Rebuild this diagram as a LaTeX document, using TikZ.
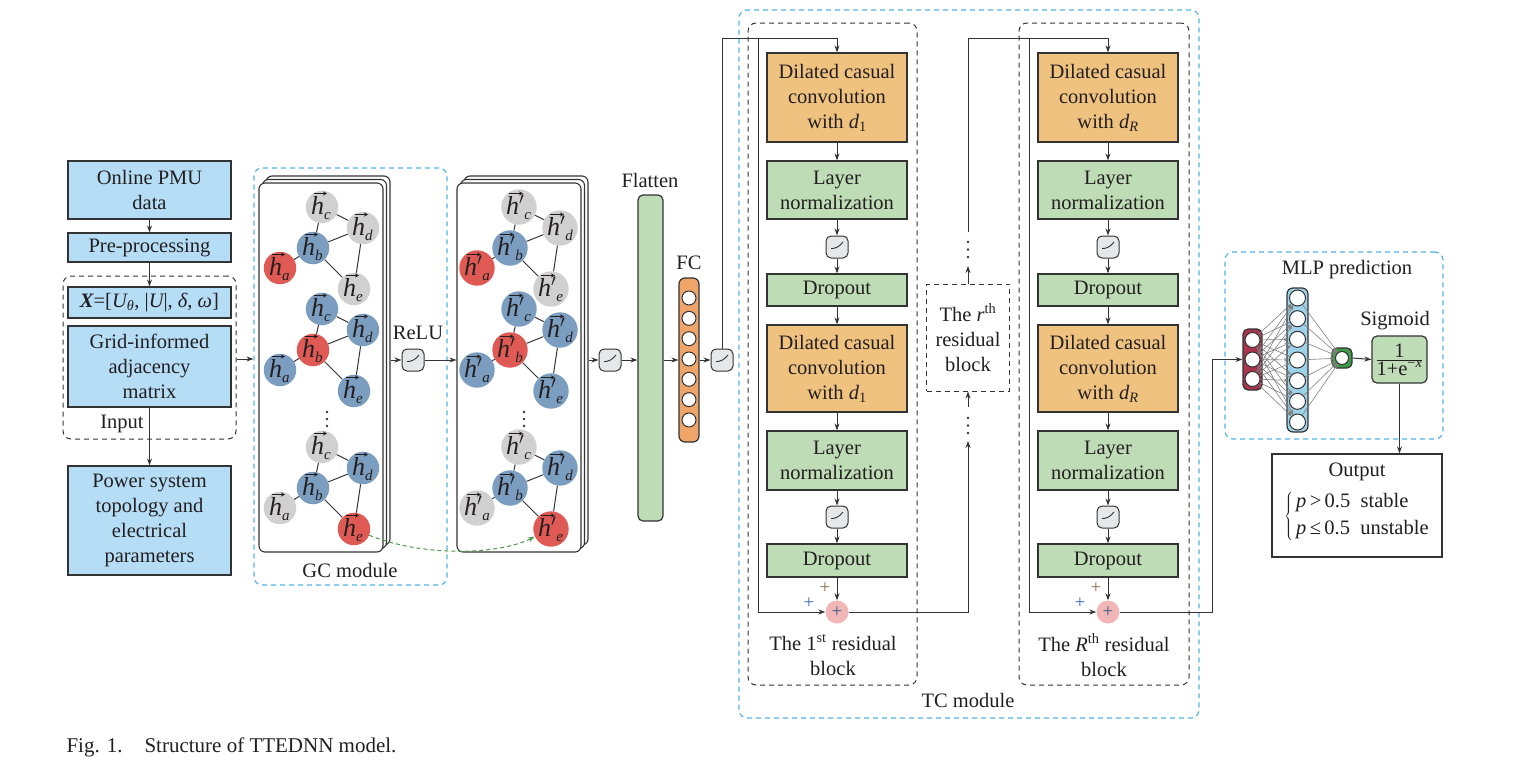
\documentclass[tikz,border=0pt]{standalone}
\usepackage{fontspec}
\setmainfont{Liberation Serif}
\usetikzlibrary{arrows.meta,calc}
\definecolor{bluebox}{HTML}{B5DDF6}
\definecolor{orangebox}{HTML}{F0C27F}
\definecolor{greenbox}{HTML}{BEDCB6}
\definecolor{fcorange}{HTML}{EFA46A}
\definecolor{icongray}{HTML}{E6E7E9}
\definecolor{nred}{HTML}{E05A55}
\definecolor{nblue}{HTML}{7B9DBF}
\definecolor{ngray}{HTML}{D0D0D0}
\definecolor{dblue}{HTML}{55B4E6}
\definecolor{linec}{HTML}{333333}
\definecolor{txt}{HTML}{231F20}
\definecolor{pluspink}{HTML}{F2B6B6}
\definecolor{mlpred}{HTML}{A8344E}
\definecolor{mlpblue}{HTML}{9ED2E8}
\definecolor{mlpgreen}{HTML}{3E9B47}
\definecolor{curvegreen}{HTML}{4C9A4C}
\definecolor{plusbrown}{HTML}{8C6D4F}
\definecolor{plusblue}{HTML}{3D6DB5}
\definecolor{plusin}{HTML}{3A5A90}
\newcommand\hvn[1]{\raisebox{0pt}[19pt][5pt]{\makebox[22pt][l]{{\itshape h}\raisebox{-5pt}{\fontsize{15}{15}\selectfont\itshape #1}}}}
\newcommand\hvp[1]{\raisebox{0pt}[19pt][5pt]{\makebox[26pt][l]{{\itshape h}$'$\raisebox{-5pt}{\fontsize{15}{15}\selectfont\itshape #1}}}}
\tikzset{
 box/.style={draw=linec, line width=1.2pt, inner sep=0pt, align=center},
 bluebx/.style={box, fill=bluebox, minimum width=163pt},
 tcorange/.style={box, fill=orangebox, minimum width=140pt, minimum height=89pt},
 tcgreen/.style={box, fill=greenbox, minimum width=140pt},
 reluicon/.style={draw=linec, line width=1pt, fill=icongray, rounded corners=5pt, minimum size=22pt, inner sep=0pt,
   path picture={\draw[line width=0.9pt] ([shift={(-6pt,-1.5pt)}]path picture bounding box.center) -- ([shift={(0pt,-1.5pt)}]path picture bounding box.center) -- ([shift={(6pt,5pt)}]path picture bounding box.center);}},
 arr/.style={draw=linec, line width=1pt, -{Stealth[length=7pt,width=5pt]}},
 gedge/.style={draw=linec, line width=1pt},
 blkdash/.style={draw=linec, line width=1pt, dash pattern=on 5pt off 4pt, rounded corners=8pt, inner sep=0pt},
 bludash/.style={draw=dblue, line width=1.2pt, dash pattern=on 5pt off 4pt, rounded corners=8pt, inner sep=0pt},
 gnode/.style={circle, minimum size=31pt, inner sep=0pt, font=\fontsize{26}{26}\selectfont},
 gn-n/.style={gnode, path picture={\draw[line width=1pt, draw=txt, -{Stealth[length=4pt,width=4pt]}] ([shift={(-8.5pt,13.5pt)}]path picture bounding box.center) -- ([shift={(5pt,13.5pt)}]path picture bounding box.center);}},
 gn-p/.style={gnode, path picture={\draw[line width=1pt, draw=txt, -{Stealth[length=4pt,width=4pt]}] ([shift={(-10.5pt,13.5pt)}]path picture bounding box.center) -- ([shift={(4pt,13.5pt)}]path picture bounding box.center);}},
 card/.style={draw=linec, line width=1.1pt, fill=white, rounded corners=6pt, minimum width=124pt, minimum height=369pt, inner sep=0pt},
 mc/.style={circle, draw=linec, fill=white, line width=1pt, inner sep=0pt, minimum size=15pt},
 plusc/.style={circle, fill=pluspink, minimum size=23pt, inner sep=0pt, text=plusin, font=\fontsize{19}{19}\selectfont},
 mlparr/.style={draw=gray, line width=0.6pt, -{Stealth[length=5pt,width=3.5pt]}},
}
\newcommand\ggroup[9]{%
 \begin{scope}[shift={(#2,#3)}]
 \node[gn-#9, fill=#4] (#1a) at (280,268) {\csname hv#9\endcsname{a}};
 \node[gn-#9, fill=#5] (#1b) at (313,248) {\csname hv#9\endcsname{b}};
 \node[gn-#9, fill=#6] (#1c) at (322,207) {\csname hv#9\endcsname{c}};
 \node[gn-#9, fill=#7] (#1d) at (363,228) {\csname hv#9\endcsname{d}};
 \node[gn-#9, fill=#8] (#1e) at (354,289) {\csname hv#9\endcsname{e}};
 \draw[gedge] (#1c)--(#1b) (#1c)--(#1d) (#1b)--(#1d) (#1a)--(#1b) (#1b)--(#1e) (#1d)--(#1e);
 \end{scope}}
\newcommand\tcblock[3]{%
 \node[tcorange] (#1dilA) at (#2,97.5) {Dilated casual\\convolution\\with {\itshape d}\textsubscript{#3}};
 \node[tcgreen, minimum height=58pt] (#1lnA) at (#2,190) {Layer\\normalization};
 \node[reluicon] (#1rlA) at (#2,247) {};
 \node[tcgreen, minimum height=32pt] (#1drA) at (#2,290) {Dropout};
 \node[tcorange, minimum height=87pt] (#1dilB) at (#2,368.5) {Dilated casual\\convolution\\with {\itshape d}\textsubscript{#3}};
 \node[tcgreen, minimum height=59pt] (#1lnB) at (#2,460.5) {Layer\\normalization};
 \node[reluicon] (#1rlB) at (#2,517) {};
 \node[tcgreen, minimum height=33pt] (#1drB) at (#2,560.5) {Dropout};
 \node[plusc] (#1plus) at (#2,612) {+};
 \draw[arr] (#1dilA) -- (#1lnA);
 \draw[arr] (#1lnA) -- (#1rlA);
 \draw[arr] (#1rlA) -- (#1drA);
 \draw[arr] (#1drA) -- (#1dilB);
 \draw[arr] (#1dilB) -- (#1lnB);
 \draw[arr] (#1lnB) -- (#1rlB);
 \draw[arr] (#1rlB) -- (#1drB);
 \draw[arr] (#1drB) -- (#1plus);
 \node[text=plusbrown, font=\fontsize{19}{19}\selectfont] (#1pa) at ({#2-12},588) {+};
 \node[text=plusblue, font=\fontsize{19}{19}\selectfont] (#1pb) at ({#2-28},603) {+};
}
\begin{document}
\begin{tikzpicture}[x=1pt,y=-1pt, font=\fontsize{20.5}{25}\selectfont, text=txt, every node/.append style={align=center}]
\useasboundingbox (0,0) rectangle (1524,772);

% ---------- left column ----------
\node[blkdash, minimum width=173pt, minimum height=163pt] (inbox) at (149.5,357.5) {};
\node[bluebx, minimum height=58pt] (pmu) at (149.5,190) {Online PMU\\data};
\node[bluebx, minimum height=29pt] (pre) at (149.5,247.5) {Pre-processing};
\node[bluebx, minimum height=31pt] (xin) at (149.5,302.5) {{\bfseries\itshape X}=[{\itshape U}\textsubscript{\itshape θ}, |{\itshape U}|, {\itshape δ}, {\itshape ω}]};
\node[bluebx, minimum height=81pt] (grid) at (149.5,366.5) {Grid-informed\\adjacency\\matrix};
\node[bluebx, minimum height=109pt] (pow) at (149.5,520.5) {Power system\\topology and\\electrical\\parameters};
\node (inlab) at (122,424) {Input};
\draw[arr] (pmu) -- (pre);
\draw[arr] (pre) -- (xin);
\draw[arr] (grid) -- (pow);

% ---------- GC module ----------
\node[bludash, minimum width=193pt, minimum height=417pt] (gcm) at (350.5,376.5) {};
\node (gclab) at (350,570) {GC module};
\draw[arr] (inbox.east |- 0,359) -- (gcm.west |- 0,359);

\node[card] (c1c) at (328,360.5) {};
\node[card] (c1b) at (324.5,364) {};
\node[card] (c1a) at (321,367.5) {};
\node[card] (c2c) at (526,360.5) {};
\node[card] (c2b) at (522.5,364) {};
\node[card] (c2a) at (519,367.5) {};

\ggroup{sa}{0}{0}{nred}{nblue}{ngray}{ngray}{ngray}{n}
\ggroup{sb}{0}{102}{nblue}{nred}{nblue}{nblue}{nblue}{n}
\ggroup{sc}{0}{240}{ngray}{nblue}{ngray}{nblue}{nred}{n}
\ggroup{ta}{197}{0}{nred}{nblue}{ngray}{ngray}{ngray}{p}
\ggroup{tb}{197}{102}{nblue}{nred}{nblue}{nblue}{nblue}{p}
\ggroup{tc}{197}{240}{ngray}{nblue}{ngray}{nblue}{nred}{p}
\foreach \yy in {412,419,426} {\fill[linec] (327,\yy) circle (1.3pt); \fill[linec] (524,\yy) circle (1.3pt);}

\draw[curvegreen, line width=1pt, dash pattern=on 4pt off 3pt, -{Stealth[length=7pt,width=5pt]}] (sce) .. controls (420,556) and (495,556) .. (tce);

\node[reluicon] (r1) at (413,360) {};
\node (relulab) at (418,333) {ReLU};
\draw[arr] (c1c.east |- r1) -- (r1.west);
\draw[arr] (r1.east) -- (c2a.west |- r1.east);

\node[reluicon] (r2) at (610,360) {};
\draw[arr] (c2c.east |- r2) -- (r2.west);

% ---------- Flatten / FC ----------
\node[box, fill=greenbox, rounded corners=5pt, minimum width=25pt, minimum height=326pt] (flat) at (650.5,358) {};
\node (flatlab) at (650,180) {Flatten};
\draw[arr] (r2.east) -- (flat.west |- r2.east);
\node[box, fill=fcorange, rounded corners=6pt, minimum width=20pt, minimum height=164pt] (fcbar) at (689,360) {};
\foreach \i in {1,...,7} \node[mc, minimum size=14pt] (fc\i) at (689,{298+20.33*(\i-1)}) {};
\node (fclab) at (689,263) {FC};
\draw[arr] (flat.east |- fcbar.west) -- (fcbar.west);
\node[reluicon] (r3) at (722,360) {};
\draw[arr] (fcbar.east) -- (r3.west);

% ---------- TC module ----------
\node[bludash, minimum width=460pt, minimum height=708pt] (tcm) at (969,364) {};
\node (tclab) at (968,700) {TC module};
\node[blkdash, minimum width=169pt, minimum height=662pt] (blkA) at (832.5,354) {};
\node[blkdash, minimum width=170pt, minimum height=662pt] (blkB) at (1104,354) {};
\tcblock{A}{837}{1}
\tcblock{B}{1108}{\itshape R}
\node (labA) at (833,655) {The 1\textsuperscript{st} residual\\block};
\node (labB) at (1104,655) {The {\itshape R}\textsuperscript{th} residual\\block};
\node[blkdash, rounded corners=0pt, minimum width=83pt, minimum height=107pt] (rth) at (968,337.5) {The {\itshape r}\textsuperscript{th}\\residual\\block};

\coordinate (topL) at (722,38);
\coordinate (skA) at (758,38);
\coordinate (skB) at (1029,38);
\draw[arr] (r3.north) -- (r3.north |- topL) -- (AdilA.north |- topL) -- (AdilA.north);
\draw[arr] (skA) |- (Aplus.west);
\coordinate (midup) at (968,441);
\draw[arr] (Aplus.east) -| (midup);
\foreach \yy in {418,425.5,433} \fill[linec] (968,\yy) circle (1.3pt);
\coordinate (midB) at (968,407);
\draw[arr] (midB) -- (rth.south);
\coordinate (midC) at (968,266);
\draw[arr] (rth.north) -- (midC);
\foreach \yy in {242,249.5,257} \fill[linec] (968,\yy) circle (1.3pt);
\coordinate (midD) at (968,232);
\draw[arr] (midD) -- (midD |- topL) -- (BdilA.north |- topL) -- (BdilA.north);
\draw[arr] (skB) |- (Bplus.west);

% ---------- MLP ----------
\node[bludash, minimum width=218pt, minimum height=187pt] (mlpm) at (1334,345.5) {};
\node (mlplab) at (1347,270) {MLP prediction};
\node[box, fill=mlpred, rounded corners=5pt, minimum width=19pt, minimum height=61pt] (redbar) at (1252.5,359.5) {};
\node[mc] (m1) at (1252.5,340) {};
\node[mc] (m2) at (1252.5,359.5) {};
\node[mc] (m3) at (1252.5,379) {};
\node[box, fill=mlpblue, rounded corners=6pt, minimum width=21pt, minimum height=144pt] (bluebar) at (1297.5,360) {};
\foreach \j in {1,...,7} \node[mc, minimum size=16pt] (n\j) at (1297.5,{298+20.67*(\j-1)}) {};
\node[box, fill=mlpgreen, rounded corners=5pt, minimum size=20pt] (gout) at (1342,358) {};
\node[mc, minimum size=13pt] (goc) at (1342,358) {};
\foreach \i in {1,2,3} \foreach \j in {1,...,7} \draw[mlparr] (m\i) -- (n\j);
\foreach \j in {1,...,7} \draw[mlparr] (n\j) -- (goc);
\coordinate (turn) at (1212,0);
\draw[arr] (Bplus.east) -- (Bplus.east -| turn) |- (redbar.west);

\node[box, fill=greenbox, rounded corners=5pt, minimum width=55pt, minimum height=47pt] (sig) at (1399.5,359.5) {$\frac{\mbox{1}}{\mbox{1+e\textsuperscript{−\itshape x}}}$};
\node (siglab) at (1395,321) {Sigmoid};
\draw[arr] (gout.east) -- (sig.west);

\node[box, fill=white, line width=1.1pt, minimum width=170pt, minimum height=103pt] (outb) at (1357,505.5) {};
\node (outlab) at (1357,472) {Output};
\node (outtxt) at (1357,516) {$\left\{\hspace{3pt}\mbox{\begin{tabular}{@{}l@{}}{\itshape p}\,>\,0.5\ \ stable\\[2pt]{\itshape p}\,≤\,0.5\ \ unstable\end{tabular}}\right.$};
\draw[arr] (sig.south) -- (sig.south |- outb.north);

% ---------- caption ----------
\node[anchor=base west, font=\fontsize{21}{25}\selectfont] (cap) at (63,752) {Fig. 1.\hspace{22pt}Structure of TTEDNN model.};
\end{tikzpicture}
\end{document}
